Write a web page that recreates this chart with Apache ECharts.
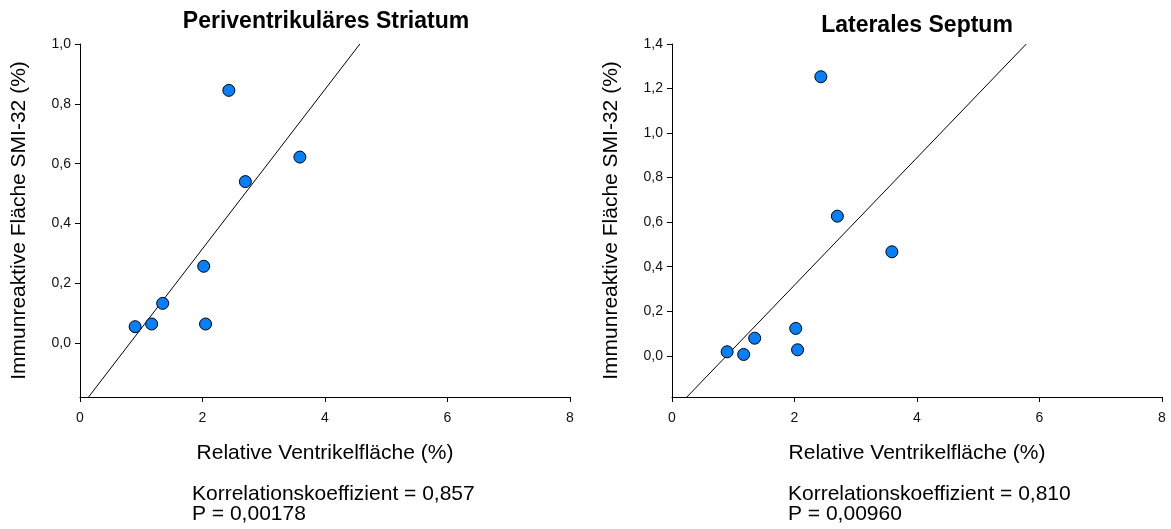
<!DOCTYPE html>
<html>
<head>
<meta charset="utf-8">
<script src="https://cdn.jsdelivr.net/npm/echarts@6/dist/echarts.min.js"></script>
<style>
  html, body { margin: 0; padding: 0; background: #fff; }
  #chart { width: 1171px; height: 529px; }
</style>
</head>
<body>
<div id="chart"></div>
<script>
// Relative ventricle area (%) per animal, shared by both regions
const ventrikelflaeche = [0.90, 1.17, 1.35, 2.02, 2.05, 2.43, 2.70, 3.59];
// Immunoreactive SMI-32 area (%) per region
const striatumSMI = [0.055, 0.064, 0.133, 0.257, 0.064, 0.845, 0.540, 0.622];
const septumSMI = [0.018, 0.006, 0.079, 0.123, 0.027, 1.253, 0.627, 0.467];

const panelTitles = ['Periventrikuläres Striatum', 'Laterales Septum'];
const statsText = [
  ['Korrelationskoeffizient = 0,857', 'P = 0,00178'],
  ['Korrelationskoeffizient = 0,810', 'P = 0,00960']
];
const xTicks = [0, 2, 4, 6, 8];
const yTicksStriatum = [0, 0.2, 0.4, 0.6, 0.8, 1.0];
const yTicksSeptum = [0, 0.2, 0.4, 0.6, 0.8, 1.0, 1.2, 1.4];
const yRangeStriatum = [-0.18, 1.0];
const yRangeSeptum = [-0.185, 1.4];

const FONT = '"Liberation Sans", Arial, Helvetica, sans-serif';

// Ordinary least-squares fit, returned as the segment inside the plotting box
function fitSegment(xs, ys, yMin, yMax, xMin, xMax) {
  const n = xs.length;
  const mx = xs.reduce((a, b) => a + b, 0) / n;
  const my = ys.reduce((a, b) => a + b, 0) / n;
  let sxy = 0, sxx = 0;
  for (let i = 0; i < n; i++) {
    sxy += (xs[i] - mx) * (ys[i] - my);
    sxx += (xs[i] - mx) * (xs[i] - mx);
  }
  const b = sxy / sxx;
  const a = my - b * mx;
  const x0 = Math.max(xMin, (yMin - a) / b);
  const x1 = Math.min(xMax, (yMax - a) / b);
  return [[x0, a + b * x0], [x1, a + b * x1]];
}

const comma = v => v.toFixed(1).replace('.', ',');

function xAxisFor(gridIndex) {
  return {
    gridIndex, type: 'value', min: 0, max: 8, interval: 2,
    name: 'Relative Ventrikelfläche (%)', nameLocation: 'middle', nameGap: 46,
    nameTextStyle: { fontFamily: FONT, fontSize: 21, color: '#000' },
    axisLine: { onZero: false, lineStyle: { color: '#000', width: 1 } },
    axisTick: { show: true, inside: false, length: 5, lineStyle: { color: '#000' } },
    axisLabel: { fontFamily: FONT, fontSize: 14, color: '#111', margin: 14,
                 customValues: xTicks },
    splitLine: { show: false }
  };
}

function yAxisFor(gridIndex, range, ticks) {
  return {
    gridIndex, type: 'value', min: range[0], max: range[1],
    name: 'Immunreaktive Fläche SMI-32 (%)', nameLocation: 'middle', nameGap: 50,
    nameTextStyle: { fontFamily: FONT, fontSize: 21, color: '#000' },
    axisLine: { onZero: false, lineStyle: { color: '#000', width: 1 } },
    axisTick: { show: true, inside: false, length: 5, lineStyle: { color: '#000' },
                customValues: ticks },
    axisLabel: { fontFamily: FONT, fontSize: 14, color: '#111', margin: 9,
                 customValues: ticks, formatter: comma },
    splitLine: { show: false }
  };
}

const scatterStyle = {
  type: 'scatter', symbol: 'circle', symbolSize: 12,
  itemStyle: { color: '#0580FA', borderColor: '#000', borderWidth: 1, opacity: 1 },
  z: 3
};
const lineStyle = {
  type: 'line', showSymbol: false, symbol: 'none', clip: true,
  lineStyle: { color: '#000', width: 1 }, z: 2, silent: true
};

const pairsStriatum = ventrikelflaeche.map((x, i) => [x, striatumSMI[i]]);
const pairsSeptum = ventrikelflaeche.map((x, i) => [x, septumSMI[i]]);

const option = {
  animation: false,
  backgroundColor: '#fff',
  grid: [
    { left: 80, top: 44, width: 490, height: 353 },
    { left: 672, top: 44, width: 490, height: 353 }
  ],
  xAxis: [xAxisFor(0), xAxisFor(1)],
  yAxis: [yAxisFor(0, yRangeStriatum, yTicksStriatum), yAxisFor(1, yRangeSeptum, yTicksSeptum)],
  series: [
    Object.assign({}, lineStyle, { xAxisIndex: 0, yAxisIndex: 0,
      data: fitSegment(ventrikelflaeche, striatumSMI, yRangeStriatum[0], yRangeStriatum[1], 0, 8) }),
    Object.assign({}, scatterStyle, { xAxisIndex: 0, yAxisIndex: 0, data: pairsStriatum }),
    Object.assign({}, lineStyle, { xAxisIndex: 1, yAxisIndex: 1,
      data: fitSegment(ventrikelflaeche, septumSMI, yRangeSeptum[0], yRangeSeptum[1], 0, 8) }),
    Object.assign({}, scatterStyle, { xAxisIndex: 1, yAxisIndex: 1, data: pairsSeptum })
  ],
  graphic: [
    { type: 'text', x: 326, y: 22, style: { text: panelTitles[0], font: 'bold 23px ' + FONT,
      fill: '#000', textAlign: 'center', textVerticalAlign: 'middle' } },
    { type: 'text', x: 917, y: 26, style: { text: panelTitles[1], font: 'bold 23px ' + FONT,
      fill: '#000', textAlign: 'center', textVerticalAlign: 'middle' } },
    { type: 'text', x: 192, y: 494, style: { text: statsText[0][0], font: '21px ' + FONT,
      fill: '#000', textAlign: 'left', textVerticalAlign: 'middle' } },
    { type: 'text', x: 192, y: 514, style: { text: statsText[0][1], font: '21px ' + FONT,
      fill: '#000', textAlign: 'left', textVerticalAlign: 'middle' } },
    { type: 'text', x: 788, y: 494, style: { text: statsText[1][0], font: '21px ' + FONT,
      fill: '#000', textAlign: 'left', textVerticalAlign: 'middle' } },
    { type: 'text', x: 788, y: 514, style: { text: statsText[1][1], font: '21px ' + FONT,
      fill: '#000', textAlign: 'left', textVerticalAlign: 'middle' } }
  ]
};

const chart = echarts.init(document.getElementById('chart'), null, { renderer: 'canvas' });
chart.setOption(option);
</script>
</body>
</html>
